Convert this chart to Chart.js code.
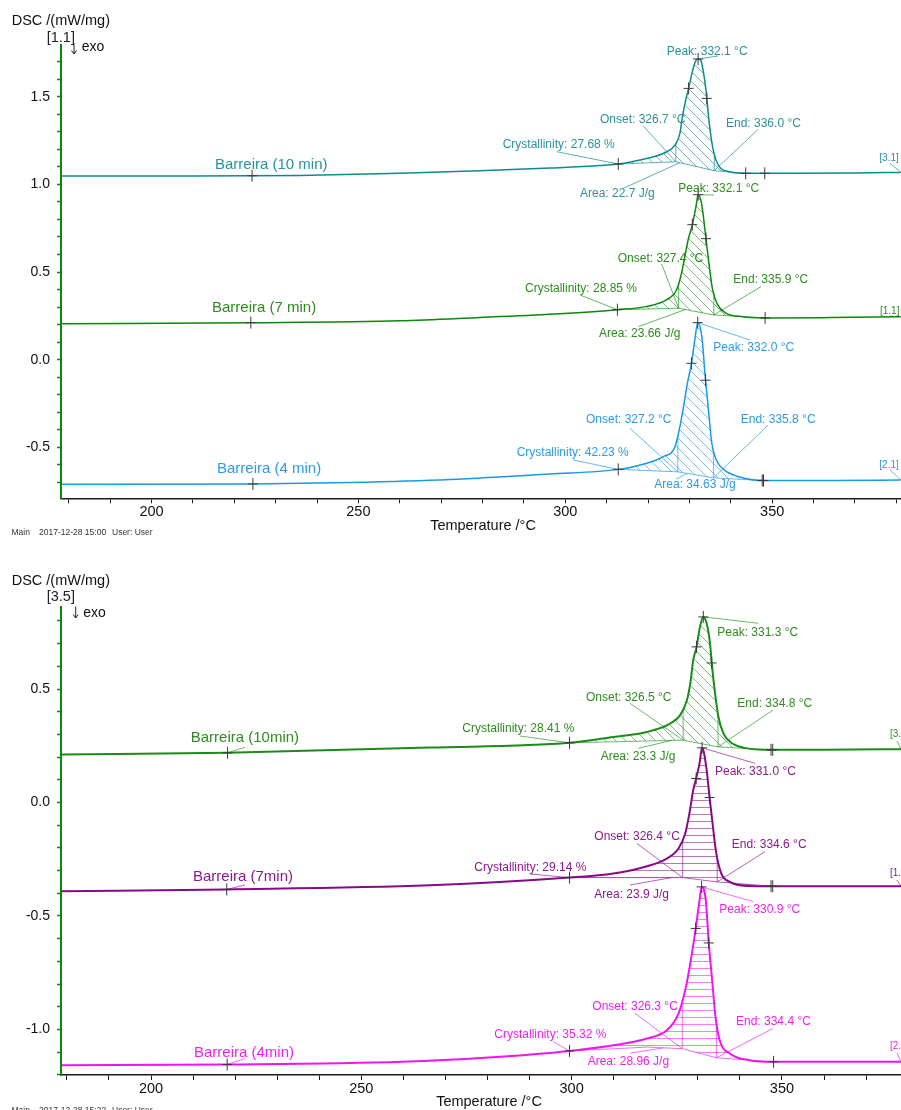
<!DOCTYPE html>
<html>
<head>
<meta charset="utf-8">
<script src="https://cdn.jsdelivr.net/npm/chart.js@4.4.1/dist/chart.umd.min.js"></script>
<style>
  html, body { margin: 0; padding: 0; background: #fff; overflow: hidden; width: 901px; height: 1110px; }
  .panel { position: absolute; left: 0; width: 901px; height: 555px; }
  #panelA { top: 0; }
  #panelB { top: 555px; }
  canvas { display: block; }
</style>
</head>
<body>
<div class="panel" id="panelA"><canvas id="chartA" width="901" height="555"></canvas></div>
<div class="panel" id="panelB"><canvas id="chartB" width="901" height="555"></canvas></div>
<script>
// ---------- Run A (2017-12-28 15:00) : temperature /°C and DSC /(mW/mg) ----------
const tempA10 = [178.4, 210.0, 235.9, 260.1, 279.4, 296.3, 308.4, 312.8, 317.5, 321.3, 324.5, 326.5, 327.7, 328.3, 329.1, 329.9, 330.7, 331.4, 332.1, 332.8, 333.3, 334.0, 334.8, 335.6, 336.4, 337.6, 339.6, 343.6, 348.2, 356.7, 370.0, 381.0];
const dscA10  = [1.047, 1.047, 1.051, 1.064, 1.078, 1.093, 1.107, 1.116, 1.136, 1.157, 1.186, 1.224, 1.291, 1.386, 1.481, 1.557, 1.642, 1.699, 1.715, 1.705, 1.652, 1.538, 1.348, 1.214, 1.139, 1.091, 1.072, 1.063, 1.063, 1.063, 1.065, 1.068];
const tempA7  = [178.4, 224.0, 260.1, 279.4, 298.7, 312.6, 319.7, 324.5, 326.9, 328.1, 328.9, 329.7, 330.7, 331.6, 332.1, 332.9, 334.0, 334.8, 335.6, 336.8, 338.8, 342.0, 348.3, 364.0, 381.0];
const dscA7   = [0.205, 0.211, 0.222, 0.241, 0.262, 0.285, 0.304, 0.342, 0.399, 0.494, 0.589, 0.685, 0.770, 0.875, 0.941, 0.894, 0.690, 0.532, 0.399, 0.314, 0.266, 0.247, 0.238, 0.240, 0.244];
const tempA4  = [178.4, 224.5, 248.0, 272.1, 296.3, 312.8, 319.7, 323.7, 326.5, 327.7, 328.7, 329.5, 330.5, 331.3, 332.0, 333.0, 333.8, 334.6, 335.4, 336.5, 338.4, 342.0, 347.9, 365.0, 381.0];
const dscA4   = [-0.711, -0.709, -0.701, -0.684, -0.652, -0.626, -0.591, -0.553, -0.497, -0.382, -0.249, -0.135, -0.021, 0.112, 0.211, 0.131, -0.093, -0.287, -0.477, -0.572, -0.629, -0.668, -0.690, -0.689, -0.687];

const namesA  = ['Barreira (10 min)', 'Barreira (7 min)', 'Barreira (4 min)'];
const tagsA   = ['[3.1]', '[1.1]', '[2.1]'];
const peakA   = [332.1, 332.1, 332.0];
const onsetA  = [326.7, 327.4, 327.2];
const endA    = [336.0, 335.9, 335.8];
const crystA  = [27.68, 28.85, 42.23];
const areaA   = [22.7, 23.66, 34.63];
const limitsA = [[312.8, 343.6], [312.6, 348.3], [312.8, 347.9]];
const baselineA = [
  [[312.8, 1.116], [326.7, 1.129], [336.0, 1.078], [343.6, 1.063]],
  [[312.6, 0.285], [327.4, 0.293], [335.9, 0.255], [348.3, 0.238]],
  [[312.8, -0.626], [327.2, -0.640], [335.8, -0.674], [347.9, -0.690]]
];
const marksA = [
  [224.3, 312.8, 329.8, 332.1, 334.2, 343.6, 348.2],
  [224.0, 312.6, 330.7, 332.1, 334.0, 348.3],
  [224.5, 312.8, 330.5, 332.0, 333.9, 347.6, 347.9]
];

// ---------- Run B (2017-12-28 15:22) ----------
const tempB10 = [178.8, 218.2, 266.3, 299.5, 309.9, 317.9, 323.4, 325.8, 327.4, 328.2, 328.9, 329.7, 330.5, 331.3, 332.1, 332.9, 333.3, 334.1, 334.9, 336.1, 337.7, 340.8, 347.6, 360.0, 378.3];
const dscB10  = [0.212, 0.219, 0.242, 0.263, 0.289, 0.311, 0.348, 0.385, 0.451, 0.524, 0.627, 0.686, 0.774, 0.818, 0.789, 0.701, 0.615, 0.480, 0.377, 0.304, 0.267, 0.242, 0.232, 0.233, 0.235];
const tempB7  = [178.8, 218.0, 266.3, 299.5, 309.9, 317.9, 322.6, 325.4, 327.0, 328.0, 328.9, 329.6, 330.4, 331.0, 332.0, 332.8, 333.6, 334.4, 335.6, 337.6, 341.6, 347.6, 378.3];
const dscB7   = [-0.391, -0.383, -0.365, -0.331, -0.313, -0.281, -0.247, -0.203, -0.137, -0.048, 0.054, 0.106, 0.172, 0.241, 0.157, 0.022, -0.108, -0.225, -0.313, -0.350, -0.368, -0.369, -0.369];
const tempB4  = [178.8, 218.1, 259.7, 280.2, 299.5, 309.9, 317.9, 322.6, 325.4, 327.0, 328.2, 329.5, 330.4, 330.9, 331.9, 332.6, 333.4, 334.2, 335.2, 337.6, 342.3, 348.0, 378.3];
const dscB4   = [-1.158, -1.155, -1.143, -1.124, -1.095, -1.070, -1.040, -1.004, -0.930, -0.827, -0.710, -0.555, -0.431, -0.372, -0.431, -0.619, -0.783, -0.945, -1.048, -1.106, -1.136, -1.143, -1.143];

const namesB  = ['Barreira (10min)', 'Barreira (7min)', 'Barreira (4min)'];
const tagsB   = ['[3.5]', '[1.5]', '[2.5]'];
const peakB   = [331.3, 331.0, 330.9];
const onsetB  = [326.5, 326.4, 326.3];
const endB    = [334.8, 334.6, 334.4];
const crystB  = [28.41, 29.14, 35.32];
const areaB   = [23.3, 23.9, 28.96];
const limitsB = [[299.5, 347.6], [299.5, 347.6], [299.5, 348.0]];
const baselineB = [
  [[299.5, 0.263], [326.5, 0.275], [334.8, 0.245], [347.6, 0.232]],
  [[299.5, -0.331], [326.4, -0.331], [334.6, -0.350], [347.6, -0.369]],
  [[299.5, -1.095], [318.0, -1.078], [326.3, -1.085], [334.4, -1.125], [348.0, -1.143]]
];
const marksB = [
  [218.2, 299.5, 329.7, 331.3, 333.3, 347.4, 347.8],
  [218.0, 299.5, 329.6, 331.0, 332.8, 347.4, 347.8],
  [218.1, 299.5, 329.5, 330.9, 332.6, 348.0]
];

// ---------- styling ----------
const FONT = '"Liberation Sans", Arial, Helvetica, sans-serif';
const styleA = [
  { line: '#0e8a8f', text: '#2a919b', thin: 'rgba(14,138,143,0.75)', hatch: 'd' },
  { line: '#0c880c', text: '#2e8c1e', thin: 'rgba(12,136,12,0.7)', hatch: 'd' },
  { line: '#1b98e6', text: '#2a9be6', thin: 'rgba(27,152,230,0.75)', hatch: 'd' }
];
const styleB = [
  { line: '#1a8c1a', text: '#2e8c1e', thin: 'rgba(26,140,26,0.7)', hatch: 'd' },
  { line: '#860a86', text: '#8a1a8a', thin: 'rgba(134,10,134,0.7)', hatch: 'h' },
  { line: '#f014f0', text: '#ee22ee', thin: 'rgba(240,20,240,0.7)', hatch: 'h' }
];
// label placement (canvas px): [left, middle] for texts, plus the start of each leader line
const placeA = [
  { name: [215, 165], peak: [666.7, 51.7], peakLead: [718, 56], onset: [600, 119.3], onsetLead: [643.3, 126],
    end: [726, 123.3], endLead: [758.3, 129.3], cryst: [502.7, 145], crystLead: [556.7, 151.7],
    area: [580, 194], areaLead: [623.3, 188.3], areaAt: 327.7, tag: [879.3, 158.3], tagLead: [890, 163.3] },
  { name: [212, 308], peak: [678.3, 189], peakLead: [714, 195], onset: [617.7, 258.3], onsetLead: [661.7, 264],
    end: [733.3, 280], endLead: [761, 286.7], cryst: [525, 288.3], crystLead: [580, 295],
    area: [599, 334], areaLead: [638.3, 326.7], areaAt: 329, tag: [880, 311.7], tagLead: [890, 316] },
  { name: [217, 469], peak: [713.3, 347.3], peakLead: [750, 340], onset: [586, 420], onsetLead: [630, 428.3],
    end: [740.7, 419.3], endLead: [768.3, 425], cryst: [516.7, 452.7], crystLead: [573.3, 460],
    area: [654.3, 485], areaLead: [676, 479], areaAt: 329.5, tag: [879.3, 465], tagLead: [890, 470] }
];
const placeB = [
  { name: [190.7, 183.3], nameLead: [245, 192.3], peak: [717.3, 77.3], peakLead: [758.3, 68.3], onset: [586, 142.3], onsetLead: [630, 148.3],
    end: [737.3, 149], endLead: [773.3, 155], cryst: [462.3, 174], crystLead: [520, 181],
    area: [600.7, 201.7], areaLead: [638.3, 193.3], areaAt: 323.8, tag: [890, 179], tagLead: [897, 186] },
  { name: [193, 322], nameLead: [245, 330], peak: [715, 216.7], peakLead: [755, 208.3], onset: [594.3, 281.7], onsetLead: [636.7, 288.3],
    end: [731.7, 290], endLead: [765, 296.7], cryst: [474.3, 312.3], crystLead: [530, 319],
    area: [594.3, 339.3], areaLead: [630, 330], areaAt: 323.8, tag: [890, 318.3], tagLead: [897, 325] },
  { name: [194, 498.3], nameLead: [245, 503.5], peak: [719.3, 354.3], peakLead: [753.3, 346.7], onset: [592.3, 451.7], onsetLead: [635, 458.3],
    end: [736, 466.7], endLead: [773.3, 473.3], cryst: [494.3, 480], crystLead: [553.3, 486.7],
    area: [587.7, 506.7], areaLead: [630, 498.3], areaAt: 321.8, tag: [890, 491.7], tagLead: [897, 498] }
];

function interp(ts, vs, t) {
  if (t <= ts[0]) return vs[0];
  for (let i = 1; i < ts.length; i++) {
    if (t <= ts[i]) {
      const f = (t - ts[i - 1]) / (ts[i] - ts[i - 1]);
      return vs[i - 1] + f * (vs[i] - vs[i - 1]);
    }
  }
  return vs[vs.length - 1];
}

function buildSeries(temps, values, names, tags, peaks, onsets, ends, cryst, area, limits, baselines, marks, styles, places) {
  return temps.map((t, i) => ({
    t, v: values[i], name: names[i], tag: tags[i], peak: peaks[i], onset: onsets[i], end: ends[i],
    cryst: cryst[i], area: area[i], lim: limits[i], base: baselines[i], marks: marks[i],
    style: styles[i], place: places[i]
  }));
}

const runA = {
  canvas: 'chartA', canvasH: 555, lineWidth: 1.5,
  area: { left: 61, top: 45, bottom: 498.3 },
  xMin: 178.13, xMax: 381.13, yMin: -0.791, yMax: 1.795,
  series: buildSeries([tempA10, tempA7, tempA4], [dscA10, dscA7, dscA4], namesA, tagsA, peakA, onsetA, endA,
                      crystA, areaA, limitsA, baselineA, marksA, styleA, placeA),
  head: { title: 'DSC /(mW/mg)', tx: 11.7, ty: 20.5, seg: '[1.1]', sx: 46.7, sy: 37.5, ax: 74, ay0: 43, ay1: 54, ex: 81.7, ey: 47.3 },
  xTitle: { x: 483, y: 526 },
  footer: { y: 532.7, stamp: '2017-12-28 15:00' }
};
const runB = {
  canvas: 'chartB', canvasH: 555, lineWidth: 2,
  area: { left: 61, top: 51.7, bottom: 520 },
  xMin: 178.6, xMax: 378.3, yMin: -1.201, yMax: 0.863,
  series: buildSeries([tempB10, tempB7, tempB4], [dscB10, dscB7, dscB4], namesB, tagsB, peakB, onsetB, endB,
                      crystB, areaB, limitsB, baselineB, marksB, styleB, placeB),
  head: { title: 'DSC /(mW/mg)', tx: 11.7, ty: 25.8, seg: '[3.5]', sx: 46.7, sy: 41.7, ax: 75.7, ay0: 51.5, ay1: 63, ex: 83.3, ey: 57.7 },
  xTitle: { x: 489, y: 547 },
  footer: { y: 556, stamp: '2017-12-28 15:22' }
};

function text(ctx, str, x, y, size, color) {
  ctx.font = size + 'px ' + FONT;
  ctx.fillStyle = color;
  ctx.textAlign = 'left';
  ctx.textBaseline = 'middle';
  ctx.fillText(str, x, y);
}
function seg(ctx, x0, y0, x1, y1) {
  ctx.beginPath(); ctx.moveTo(x0, y0); ctx.lineTo(x1, y1); ctx.stroke();
}

// Evaluation overlay: hatched peak area, virtual baseline, onset/end lines, tick crosses and labels
function evaluationPlugin(run) {
  return {
    id: 'evaluation_' + run.canvas,
    beforeDatasetsDraw(chart) {
      const { ctx, scales: { x, y } } = chart;
      run.series.forEach((s, i) => {
        const meta = chart.getDatasetMeta(i);
        meta.dataset.updateControlPoints(chart.chartArea, 'x');
        const pts = meta.data;
        const i1 = s.t.indexOf(s.lim[0]), i2 = s.t.indexOf(s.lim[1]);
        const bx = s.base.map(p => p[0]), bv = s.base.map(p => p[1]);
        ctx.save();
        ctx.beginPath();
        ctx.moveTo(pts[i1].x, pts[i1].y);
        for (let k = i1 + 1; k <= i2; k++) {
          const p = pts[k - 1], c = pts[k];
          if (p.cp2x !== undefined && c.cp1x !== undefined) ctx.bezierCurveTo(p.cp2x, p.cp2y, c.cp1x, c.cp1y, c.x, c.y);
          else ctx.lineTo(c.x, c.y);
        }
        for (let k = s.base.length - 1; k >= 0; k--) ctx.lineTo(x.getPixelForValue(bx[k]), y.getPixelForValue(bv[k]));
        ctx.closePath();
        ctx.clip();
        let top = Infinity, bottom = -Infinity;
        for (let k = i1; k <= i2; k++) { top = Math.min(top, pts[k].y); bottom = Math.max(bottom, pts[k].y); }
        s.base.forEach(p => { bottom = Math.max(bottom, y.getPixelForValue(p[1])); });
        const l = x.getPixelForValue(s.lim[0]) - 2, r = x.getPixelForValue(s.lim[1]) + 2;
        ctx.strokeStyle = s.style.thin;
        ctx.lineWidth = 0.8;
        ctx.beginPath();
        if (s.style.hatch === 'h') {
          for (let yy = Math.floor(top / 7) * 7; yy <= bottom + 7; yy += 7) { ctx.moveTo(l, yy + 0.5); ctx.lineTo(r, yy + 0.5); }
        } else {
          const c0 = Math.floor((l - bottom) / 10) * 10;
          for (let c = c0; c <= r - top + 10; c += 10) { ctx.moveTo(c + top - 2, top - 2); ctx.lineTo(c + bottom + 2, bottom + 2); }
        }
        ctx.stroke();
        ctx.restore();

        // virtual baseline and onset / end construction lines
        ctx.save();
        ctx.strokeStyle = s.style.thin;
        ctx.lineWidth = 0.9;
        ctx.beginPath();
        s.base.forEach((p, k) => {
          const px = x.getPixelForValue(p[0]), py = y.getPixelForValue(p[1]);
          if (k === 0) ctx.moveTo(px, py); else ctx.lineTo(px, py);
        });
        ctx.stroke();
        [s.onset, s.end].forEach(t => {
          const px = x.getPixelForValue(t);
          seg(ctx, px, y.getPixelForValue(interp(s.t, s.v, t)), px, y.getPixelForValue(interp(bx, bv, t)));
        });
        ctx.restore();
      });
    },
    afterDatasetsDraw(chart) {
      const { ctx, scales: { x, y } } = chart;
      run.series.forEach(s => {
        const bx = s.base.map(p => p[0]), bv = s.base.map(p => p[1]);
        const onCurve = t => [x.getPixelForValue(t), y.getPixelForValue(interp(s.t, s.v, t))];
        const onBase = t => [x.getPixelForValue(t), y.getPixelForValue(interp(bx, bv, t))];
        const P = s.place;
        ctx.save();
        // leader lines
        ctx.strokeStyle = s.style.thin;
        ctx.lineWidth = 0.9;
        const lead = (from, to) => { if (from) seg(ctx, from[0], from[1], to[0], to[1]); };
        lead(P.nameLead, onCurve(s.marks[0]));
        lead(P.peakLead, onCurve(s.peak));
        lead(P.onsetLead, onBase(s.onset));
        lead(P.endLead, onBase(s.end));
        lead(P.crystLead, onCurve(s.lim[0]));
        lead(P.areaLead, onBase(P.areaAt));
        lead(P.tagLead, onCurve(x.max));
        // tick crosses on the curve
        ctx.strokeStyle = '#3a3a3a';
        ctx.lineWidth = 1;
        s.marks.forEach(t => {
          const [px, py] = onCurve(t);
          seg(ctx, px - 5, py, px + 5, py);
          seg(ctx, px, py - 6, px, py + 6);
        });
        // labels
        const c = s.style.text;
        text(ctx, s.name, P.name[0], P.name[1], 15, c);
        text(ctx, 'Peak: ' + s.peak.toFixed(1) + ' °C', P.peak[0], P.peak[1], 12, c);
        text(ctx, 'Onset: ' + s.onset.toFixed(1) + ' °C', P.onset[0], P.onset[1], 12, c);
        text(ctx, 'End: ' + s.end.toFixed(1) + ' °C', P.end[0], P.end[1], 12, c);
        text(ctx, 'Crystallinity: ' + s.cryst.toFixed(2) + ' %', P.cryst[0], P.cryst[1], 12, c);
        text(ctx, 'Area: ' + String(s.area) + ' J/g', P.area[0], P.area[1], 12, c);
        text(ctx, s.tag, P.tag[0], P.tag[1], 10, c);
        ctx.restore();
      });
    },
    afterDraw(chart) {
      const { ctx } = chart;
      const h = run.head;
      ctx.save();
      text(ctx, h.title, h.tx, h.ty, 14.5, '#111');
      text(ctx, h.seg, h.sx, h.sy, 14.5, '#222');
      ctx.strokeStyle = '#222';
      ctx.lineWidth = 1;
      seg(ctx, h.ax, h.ay0, h.ax, h.ay1);
      seg(ctx, h.ax - 2.5, h.ay1 - 3.5, h.ax, h.ay1);
      seg(ctx, h.ax + 2.5, h.ay1 - 3.5, h.ax, h.ay1);
      text(ctx, 'exo', h.ex, h.ey, 14, '#111');
      ctx.font = '14.5px ' + FONT;
      ctx.fillStyle = '#111';
      ctx.textAlign = 'center';
      ctx.textBaseline = 'middle';
      ctx.fillText('Temperature /°C', run.xTitle.x, run.xTitle.y);
      const f = run.footer;
      text(ctx, 'Main', 11.5, f.y, 8.5, '#333');
      text(ctx, f.stamp, 39, f.y, 8.5, '#333');
      text(ctx, 'User: User', 112, f.y, 8.5, '#333');
      ctx.restore();
    }
  };
}

function isMultiple(v, step) {
  return Math.abs(v / step - Math.round(v / step)) < 1e-6;
}

function buildChart(run) {
  const datasets = run.series.map(s => ({
    data: s.t.map((t, k) => ({ x: t, y: s.v[k] })),
    borderColor: s.style.line,
    borderWidth: run.lineWidth,
    pointRadius: 0,
    fill: false,
    cubicInterpolationMode: 'monotone'
  }));
  return new Chart(document.getElementById(run.canvas), {
    type: 'line',
    data: { datasets },
    options: {
      responsive: false,
      animation: false,
      events: [],
      layout: { autoPadding: false, padding: { top: run.area.top, left: 0, right: 0, bottom: 0 } },
      plugins: { legend: { display: false }, tooltip: { enabled: false }, title: { display: false } },
      scales: {
        x: {
          type: 'linear', position: 'bottom', min: run.xMin, max: run.xMax,
          afterFit: sc => { sc.height = run.canvasH - run.area.bottom; },
          border: { display: true, color: '#1a1a1a', width: 1.5 },
          grid: { drawOnChartArea: false, drawTicks: true, tickLength: 5, color: '#1a1a1a', tickWidth: 1 },
          ticks: {
            stepSize: 10, autoSkip: false, maxRotation: 0, minRotation: 0, includeBounds: false, padding: 0,
            color: '#111', font: { family: FONT, size: 14.5 },
            callback: v => (isMultiple(v, 50) ? String(Math.round(v)) : '')
          }
        },
        y: {
          type: 'linear', position: 'left', min: run.yMin, max: run.yMax,
          afterFit: sc => { sc.width = run.area.left; },
          border: { display: true, color: '#0a8a0a', width: 2 },
          grid: { drawOnChartArea: false, drawTicks: true, tickLength: 4, color: '#0a8a0a', tickWidth: 1.5 },
          ticks: {
            stepSize: 0.1, autoSkip: false, includeBounds: false, padding: 7,
            color: '#111', font: { family: FONT, size: 14 },
            callback: v => (isMultiple(v, 0.5) ? v.toFixed(1) : '')
          }
        }
      }
    },
    plugins: [evaluationPlugin(run)]
  });
}

buildChart(runA);
buildChart(runB);
</script>
</body>
</html>
